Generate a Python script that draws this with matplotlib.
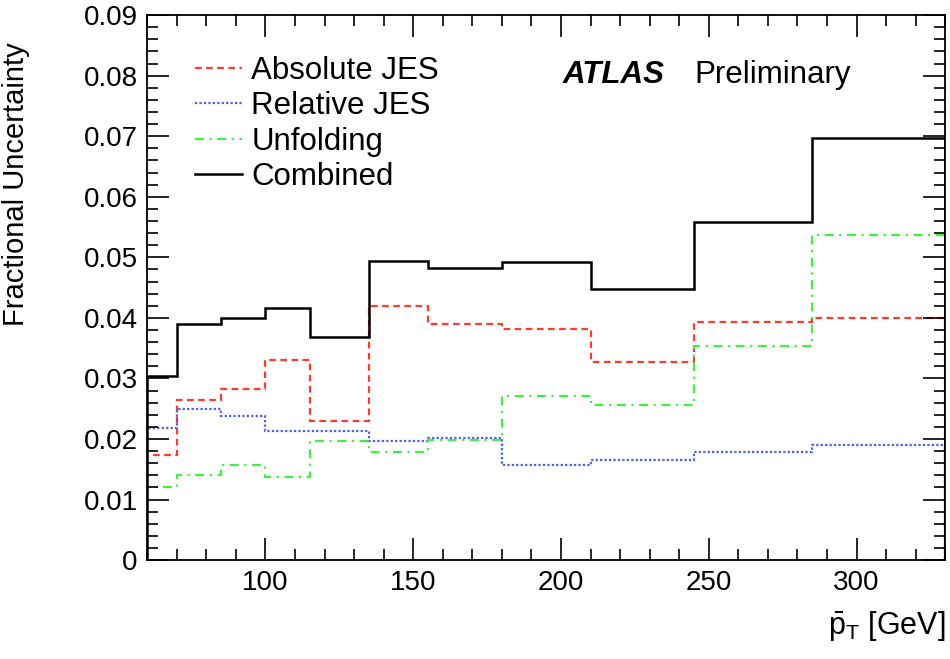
import matplotlib.pyplot as plt
from matplotlib.ticker import MultipleLocator

plt.rcParams['font.family'] = ['Liberation Sans', 'DejaVu Sans']
plt.rcParams['mathtext.fontset'] = 'custom'
plt.rcParams['mathtext.rm'] = 'Liberation Sans'
plt.rcParams['mathtext.it'] = 'Liberation Sans'

# bin edges in pT [GeV]
edges = [60, 70, 85, 100, 115, 135, 155, 180, 210, 245, 285, 330]

absolute_jes = [0.0174, 0.0265, 0.0282, 0.0331, 0.0229, 0.0419, 0.0390, 0.0381, 0.0328, 0.0393, 0.0400]
relative_jes = [0.0219, 0.0250, 0.0238, 0.0214, 0.0214, 0.0197, 0.0201, 0.0157, 0.0166, 0.0179, 0.0190]
unfolding = [0.0121, 0.0141, 0.0157, 0.0137, 0.0197, 0.0179, 0.0198, 0.0271, 0.0256, 0.0353, 0.0537]
combined = [0.0304, 0.0390, 0.0400, 0.0416, 0.0369, 0.0494, 0.0482, 0.0493, 0.0447, 0.0558, 0.0697]

fig = plt.figure(figsize=(9.5, 6.59), dpi=100)
ax = fig.add_axes([0.155, 0.150, 0.840, 0.827])

ax.stairs(absolute_jes, edges, color='#ff3b30', lw=1.6, linestyle=(0, (3, 2)), label='Absolute JES')
ax.stairs(relative_jes, edges, color='#4a5cf0', lw=1.6, linestyle=(0, (1, 1)), label='Relative JES')
ax.stairs(unfolding, edges, color='#44ee44', lw=1.6, linestyle=(0, (4, 2.5, 1, 2.5)), label='Unfolding')
ax.stairs(combined, edges, color='black', lw=1.8, label='Combined')

ax.set_xlim(60, 330)
ax.set_ylim(0, 0.09)

ax.xaxis.set_major_locator(MultipleLocator(50))
ax.xaxis.set_minor_locator(MultipleLocator(10))
ax.yaxis.set_major_locator(MultipleLocator(0.01))
ax.yaxis.set_minor_locator(MultipleLocator(0.002))
ax.yaxis.set_major_formatter(plt.FuncFormatter(lambda v, p: '0' if abs(v) < 1e-9 else f'{v:.2f}'))

ax.tick_params(which='both', direction='in', top=True, right=True, labelsize=20, width=1.2)
ax.tick_params(which='major', length=16, pad=7)
ax.tick_params(which='minor', length=8)
for s in ax.spines.values():
    s.set_linewidth(1.3)

ax.set_ylabel('Fractional Uncertainty', fontsize=21, loc='top')
ax.yaxis.set_label_coords(-0.147, 0.95)
ax.set_xlabel(r'$\mathrm{\bar{p}_{T}}$ [GeV]', fontsize=22, loc='right')
ax.xaxis.set_label_coords(1.0, -0.09)

ax.legend(loc='upper left', bbox_to_anchor=(0.06, 0.925), frameon=False, fontsize=22.5,
          handlelength=1.5, handletextpad=0.3, labelspacing=0.17, borderaxespad=0.0,
          borderpad=0.0)

ax.text(0.52, 0.89, 'ATLAS', transform=ax.transAxes, fontsize=22.5, fontweight='bold',
        fontstyle='italic', va='center')
ax.text(0.686, 0.89, 'Preliminary', transform=ax.transAxes, fontsize=22.5, va='center')

fig.savefig('out.png', dpi=100)
